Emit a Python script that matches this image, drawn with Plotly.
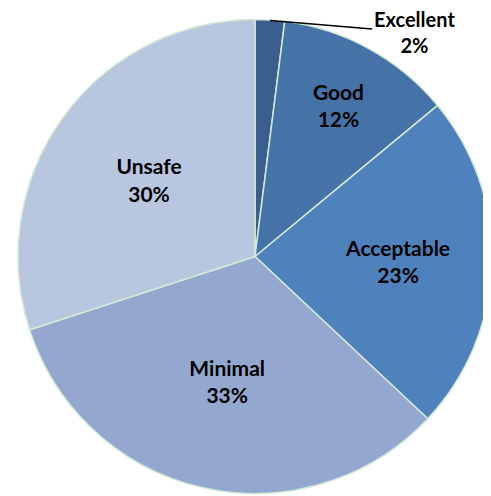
import plotly.graph_objects as go

categories = ["Excellent", "Good", "Acceptable", "Minimal", "Unsafe"]
values = [2, 12, 23, 33, 30]
colors = ["#3a5f8f", "#4572a7", "#4f81bd", "#94a8cf", "#b9c6df"]

text_pos = ["none", "inside", "inside", "inside", "inside"]

fig = go.Figure(go.Pie(
    labels=categories,
    values=values,
    sort=False,
    direction="clockwise",
    rotation=0,
    marker=dict(colors=colors, line=dict(color="#d3ead7", width=1.5)),
    texttemplate="%{label}<br>%{percent:.0%}",
    textposition=text_pos,
    insidetextorientation="horizontal",
    textfont=dict(family="Lato", size=21, color="black", weight="bold"),
    hoverinfo="label+percent",
    showlegend=False,
))

fig.add_annotation(
    x=0.532, y=0.997, xref="paper", yref="paper",
    text=f"<b>{categories[0]}<br>{values[0]}%</b>",
    showarrow=True, arrowhead=0, arrowwidth=1.5, arrowcolor="black",
    ax=144, ay=12,
    font=dict(family="Lato", size=20, color="black"),
    xanchor="center", yanchor="middle",
)

fig.update_layout(
    width=491, height=496,
    margin=dict(l=10, r=7, t=11, b=10),
    paper_bgcolor="white",
    plot_bgcolor="white",
)

fig.write_html("out.html")
